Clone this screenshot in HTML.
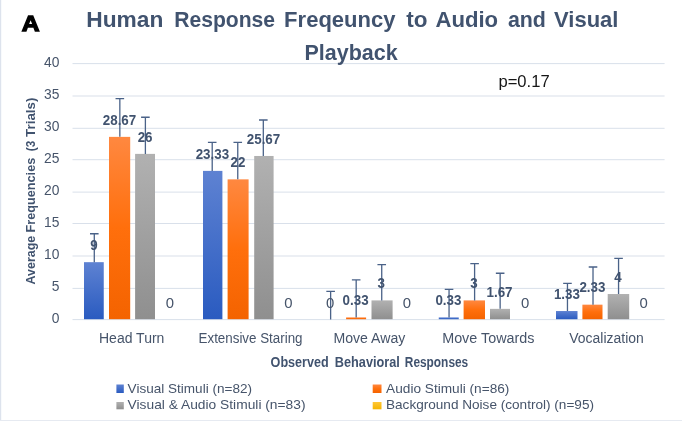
<!DOCTYPE html>
<html lang="en"><head><meta charset="utf-8"><title>Human Response Freqeuncy to Audio and Visual Playback</title>
<style>html,body{margin:0;padding:0;background:#fff}body{width:682px;height:424px;overflow:hidden}svg{display:block}text{font-family:"Liberation Sans",sans-serif;fill:#41536F}.b{font-weight:bold}</style></head><body>
<svg width="682" height="424" viewBox="0 0 682 424">
<defs><linearGradient id="gb" x1="0" y1="0" x2="0" y2="1"><stop offset="0" stop-color="#5E82D2"/><stop offset="1" stop-color="#2A5BC0"/></linearGradient><linearGradient id="go" x1="0" y1="0" x2="0" y2="1"><stop offset="0" stop-color="#FF8840"/><stop offset="0.5" stop-color="#FF6F0C"/><stop offset="1" stop-color="#F46300"/></linearGradient><linearGradient id="gg" x1="0" y1="0" x2="0" y2="1"><stop offset="0" stop-color="#B1B1B1"/><stop offset="1" stop-color="#8F8F8F"/></linearGradient><linearGradient id="gy" x1="0" y1="0" x2="0" y2="1"><stop offset="0" stop-color="#FFC738"/><stop offset="1" stop-color="#F5B400"/></linearGradient></defs>
<rect x="0" y="0" width="682" height="424" fill="#fff"/>
<rect x="0" y="0" width="1.2" height="421" fill="#DDE3ED"/>
<rect x="0" y="420" width="682" height="1" fill="#E6EAF1"/>
<rect x="72.5" y="319.10" width="592.1" height="1" fill="#D9E0EA"/>
<rect x="72.5" y="287.90" width="592.1" height="1" fill="#D9E0EA"/>
<rect x="72.5" y="255.50" width="592.1" height="1" fill="#D9E0EA"/>
<rect x="72.5" y="223.00" width="592.1" height="1" fill="#D9E0EA"/>
<rect x="72.5" y="191.60" width="592.1" height="1" fill="#D9E0EA"/>
<rect x="72.5" y="159.20" width="592.1" height="1" fill="#D9E0EA"/>
<rect x="72.5" y="127.80" width="592.1" height="1" fill="#D9E0EA"/>
<rect x="72.5" y="95.50" width="592.1" height="1" fill="#D9E0EA"/>
<rect x="72.5" y="63.10" width="592.1" height="1" fill="#D9E0EA"/>
<text x="59.4" y="323.4" font-size="13.8" text-anchor="end" style="fill:#46546A">0</text>
<text x="59.4" y="291.4" font-size="13.8" text-anchor="end" style="fill:#46546A">5</text>
<text x="59.4" y="259.4" font-size="13.8" text-anchor="end" style="fill:#46546A">10</text>
<text x="59.4" y="227.4" font-size="13.8" text-anchor="end" style="fill:#46546A">15</text>
<text x="59.4" y="195.4" font-size="13.8" text-anchor="end" style="fill:#46546A">20</text>
<text x="59.4" y="163.4" font-size="13.8" text-anchor="end" style="fill:#46546A">25</text>
<text x="59.4" y="131.4" font-size="13.8" text-anchor="end" style="fill:#46546A">30</text>
<text x="59.4" y="99.4" font-size="13.8" text-anchor="end" style="fill:#46546A">35</text>
<text x="59.4" y="67.4" font-size="13.8" text-anchor="end" style="fill:#46546A">40</text>
<text class="b" x="86.29" y="27.40" font-size="22.5" textLength="77.06" lengthAdjust="spacingAndGlyphs">Human</text>
<text class="b" x="174.16" y="27.40" font-size="22.5" textLength="100.92" lengthAdjust="spacingAndGlyphs">Response</text>
<text class="b" x="284.12" y="27.40" font-size="22.5" textLength="111.40" lengthAdjust="spacingAndGlyphs">Freqeuncy</text>
<text class="b" x="406.30" y="27.40" font-size="22.5" textLength="21.24" lengthAdjust="spacingAndGlyphs">to</text>
<text class="b" x="435.40" y="27.40" font-size="22.5" textLength="62.73" lengthAdjust="spacingAndGlyphs">Audio</text>
<text class="b" x="507.90" y="27.40" font-size="22.5" textLength="38.01" lengthAdjust="spacingAndGlyphs">and</text>
<text class="b" x="554.00" y="27.40" font-size="22.5" textLength="64.42" lengthAdjust="spacingAndGlyphs">Visual</text>
<text class="b" x="304.54" y="60.10" font-size="22.5" textLength="93.19" lengthAdjust="spacingAndGlyphs">Playback</text>
<text x="21.8" y="31.25" font-size="22.3" font-weight="bold" style="fill:#000;stroke:#000;stroke-width:1.3px;stroke-linejoin:miter" textLength="17.8" lengthAdjust="spacingAndGlyphs">A</text>
<text x="498.44" y="86.60" font-size="15.7" textLength="51.22" lengthAdjust="spacingAndGlyphs" style="fill:#161616">p=0.17</text>
<g transform="translate(35,0) rotate(-90)">
<text class="b" x="-284.40" y="0.00" font-size="12.2" textLength="48.57" lengthAdjust="spacingAndGlyphs">Average</text>
<text class="b" x="-232.50" y="0.00" font-size="12.2" textLength="74.77" lengthAdjust="spacingAndGlyphs">Frequencies</text>
<text class="b" x="-151.25" y="0.00" font-size="12.2" textLength="10.44" lengthAdjust="spacingAndGlyphs">(3</text>
<text class="b" x="-136.90" y="0.00" font-size="12.2" textLength="39.21" lengthAdjust="spacingAndGlyphs">Trials)</text>
</g>
<text class="b" x="270.60" y="367.00" font-size="14" textLength="58.10" lengthAdjust="spacingAndGlyphs">Observed</text>
<text class="b" x="334.80" y="367.00" font-size="14" textLength="65.01" lengthAdjust="spacingAndGlyphs">Behavioral</text>
<text class="b" x="404.80" y="367.00" font-size="14" textLength="63.42" lengthAdjust="spacingAndGlyphs">Responses</text>
<rect x="84.00" y="262.17" width="19.75" height="57.03" fill="url(#gb)"/>
<rect x="109.00" y="136.87" width="21.20" height="182.33" fill="url(#go)"/>
<rect x="135.10" y="153.88" width="19.90" height="165.32" fill="url(#gg)"/>
<text x="99.00" y="342.80" font-size="14" textLength="65.38" lengthAdjust="spacingAndGlyphs" style="fill:#46546A">Head Turn</text>
<rect x="203.00" y="170.89" width="19.40" height="148.31" fill="url(#gb)"/>
<rect x="227.60" y="179.36" width="21.00" height="139.84" fill="url(#go)"/>
<rect x="254.20" y="155.98" width="19.40" height="163.22" fill="url(#gg)"/>
<text x="198.55" y="342.80" font-size="14" textLength="104.01" lengthAdjust="spacingAndGlyphs" style="fill:#46546A">Extensive Staring</text>
<rect x="346.10" y="317.40" width="20.00" height="1.80" fill="url(#go)"/>
<rect x="371.50" y="300.39" width="21.10" height="18.81" fill="url(#gg)"/>
<text x="333.50" y="342.80" font-size="14" textLength="71.80" lengthAdjust="spacingAndGlyphs" style="fill:#46546A">Move Away</text>
<rect x="438.75" y="317.40" width="20.00" height="1.80" fill="url(#gb)"/>
<rect x="463.60" y="300.39" width="21.40" height="18.81" fill="url(#go)"/>
<rect x="490.00" y="308.86" width="20.00" height="10.34" fill="url(#gg)"/>
<text x="442.18" y="342.80" font-size="14" textLength="92.32" lengthAdjust="spacingAndGlyphs" style="fill:#46546A">Move Towards</text>
<rect x="556.00" y="311.03" width="21.50" height="8.17" fill="url(#gb)"/>
<rect x="582.40" y="304.66" width="20.10" height="14.54" fill="url(#go)"/>
<rect x="607.70" y="294.02" width="21.50" height="25.18" fill="url(#gg)"/>
<text x="569.30" y="342.80" font-size="14" textLength="74.48" lengthAdjust="spacingAndGlyphs" style="fill:#46546A">Vocalization</text>
<path d="M94.29 262.17V233.74M89.99 233.74H98.59" stroke="#4A6288" stroke-width="1.3" fill="none"/>
<path d="M119.84 136.87V98.70M115.54 98.70H124.14" stroke="#4A6288" stroke-width="1.3" fill="none"/>
<path d="M145.39 153.88V117.26M141.09 117.26H149.69" stroke="#4A6288" stroke-width="1.3" fill="none"/>
<path d="M212.21 170.89V142.41M207.91 142.41H216.51" stroke="#4A6288" stroke-width="1.3" fill="none"/>
<path d="M237.76 179.36V142.41M233.46 142.41H242.06" stroke="#4A6288" stroke-width="1.3" fill="none"/>
<path d="M263.31 155.98V120.01M259.01 120.01H267.61" stroke="#4A6288" stroke-width="1.3" fill="none"/>
<path d="M330.63 319.50V291.47M326.33 291.47H334.93" stroke="#4A6288" stroke-width="1.3" fill="none"/>
<path d="M356.18 317.40V279.82M351.88 279.82H360.48" stroke="#4A6288" stroke-width="1.3" fill="none"/>
<path d="M381.73 300.39V264.59M377.43 264.59H386.03" stroke="#4A6288" stroke-width="1.3" fill="none"/>
<path d="M449.05 317.40V289.29M444.75 289.29H453.35" stroke="#4A6288" stroke-width="1.3" fill="none"/>
<path d="M474.60 300.39V263.63M470.30 263.63H478.90" stroke="#4A6288" stroke-width="1.3" fill="none"/>
<path d="M500.15 308.86V273.23M495.85 273.23H504.45" stroke="#4A6288" stroke-width="1.3" fill="none"/>
<path d="M567.46 311.03V283.28M563.16 283.28H571.76" stroke="#4A6288" stroke-width="1.3" fill="none"/>
<path d="M593.01 304.66V267.02M588.71 267.02H597.31" stroke="#4A6288" stroke-width="1.3" fill="none"/>
<path d="M618.56 294.02V258.38M614.26 258.38H622.86" stroke="#4A6288" stroke-width="1.3" fill="none"/>
<text class="b" x="94.0" y="249.9" font-size="14" text-anchor="middle" textLength="7.44" lengthAdjust="spacingAndGlyphs">9</text>
<text class="b" x="119.5" y="124.6" font-size="14" text-anchor="middle" textLength="33.46" lengthAdjust="spacingAndGlyphs">28.67</text>
<text class="b" x="145.1" y="141.6" font-size="14" text-anchor="middle" textLength="14.87" lengthAdjust="spacingAndGlyphs">26</text>
<text x="169.9" y="307.9" font-size="14" text-anchor="middle" textLength="8.3" lengthAdjust="spacingAndGlyphs" style="fill:#46546A">0</text>
<text class="b" x="212.4" y="158.6" font-size="14" text-anchor="middle" textLength="33.46" lengthAdjust="spacingAndGlyphs">23.33</text>
<text class="b" x="238.0" y="167.1" font-size="14" text-anchor="middle" textLength="14.87" lengthAdjust="spacingAndGlyphs">22</text>
<text class="b" x="263.5" y="143.7" font-size="14" text-anchor="middle" textLength="33.46" lengthAdjust="spacingAndGlyphs">25.67</text>
<text x="288.4" y="307.9" font-size="14" text-anchor="middle" textLength="8.3" lengthAdjust="spacingAndGlyphs" style="fill:#46546A">0</text>
<text x="330.1" y="307.9" font-size="14" text-anchor="middle" textLength="8.3" lengthAdjust="spacingAndGlyphs" style="fill:#46546A">0</text>
<text class="b" x="355.6" y="305.1" font-size="14" text-anchor="middle" textLength="26.02" lengthAdjust="spacingAndGlyphs">0.33</text>
<text class="b" x="381.1" y="288.1" font-size="14" text-anchor="middle" textLength="7.44" lengthAdjust="spacingAndGlyphs">3</text>
<text x="406.8" y="307.9" font-size="14" text-anchor="middle" textLength="8.3" lengthAdjust="spacingAndGlyphs" style="fill:#46546A">0</text>
<text class="b" x="448.4" y="305.1" font-size="14" text-anchor="middle" textLength="26.02" lengthAdjust="spacingAndGlyphs">0.33</text>
<text class="b" x="474.0" y="288.1" font-size="14" text-anchor="middle" textLength="7.44" lengthAdjust="spacingAndGlyphs">3</text>
<text class="b" x="499.5" y="296.6" font-size="14" text-anchor="middle" textLength="26.02" lengthAdjust="spacingAndGlyphs">1.67</text>
<text x="525.2" y="307.9" font-size="14" text-anchor="middle" textLength="8.3" lengthAdjust="spacingAndGlyphs" style="fill:#46546A">0</text>
<text class="b" x="566.9" y="298.7" font-size="14" text-anchor="middle" textLength="26.02" lengthAdjust="spacingAndGlyphs">1.33</text>
<text class="b" x="592.4" y="292.4" font-size="14" text-anchor="middle" textLength="26.02" lengthAdjust="spacingAndGlyphs">2.33</text>
<text class="b" x="618.0" y="281.7" font-size="14" text-anchor="middle" textLength="7.44" lengthAdjust="spacingAndGlyphs">4</text>
<text x="643.6" y="307.9" font-size="14" text-anchor="middle" textLength="8.3" lengthAdjust="spacingAndGlyphs" style="fill:#46546A">0</text>
<rect x="116.4" y="384.5" width="7.4" height="8.5" fill="url(#gb)"/>
<text x="127.60" y="392.80" font-size="13.2" textLength="124.40" lengthAdjust="spacingAndGlyphs" style="fill:#46546A">Visual Stimuli (n=82)</text>
<rect x="116.4" y="402.0" width="7.4" height="7.3" fill="url(#gg)"/>
<text x="127.60" y="409.10" font-size="13.2" textLength="177.91" lengthAdjust="spacingAndGlyphs" style="fill:#46546A">Visual &amp; Audio Stimuli (n=83)</text>
<rect x="372.7" y="384.5" width="8.8" height="8.5" fill="url(#go)"/>
<text x="386.10" y="392.80" font-size="13.2" textLength="123.31" lengthAdjust="spacingAndGlyphs" style="fill:#46546A">Audio Stimuli (n=86)</text>
<rect x="372.7" y="402.0" width="8.8" height="7.3" fill="url(#gy)"/>
<text x="385.97" y="409.10" font-size="13.2" textLength="208.03" lengthAdjust="spacingAndGlyphs" style="fill:#46546A">Background Noise (control) (n=95)</text>
</svg></body></html>
